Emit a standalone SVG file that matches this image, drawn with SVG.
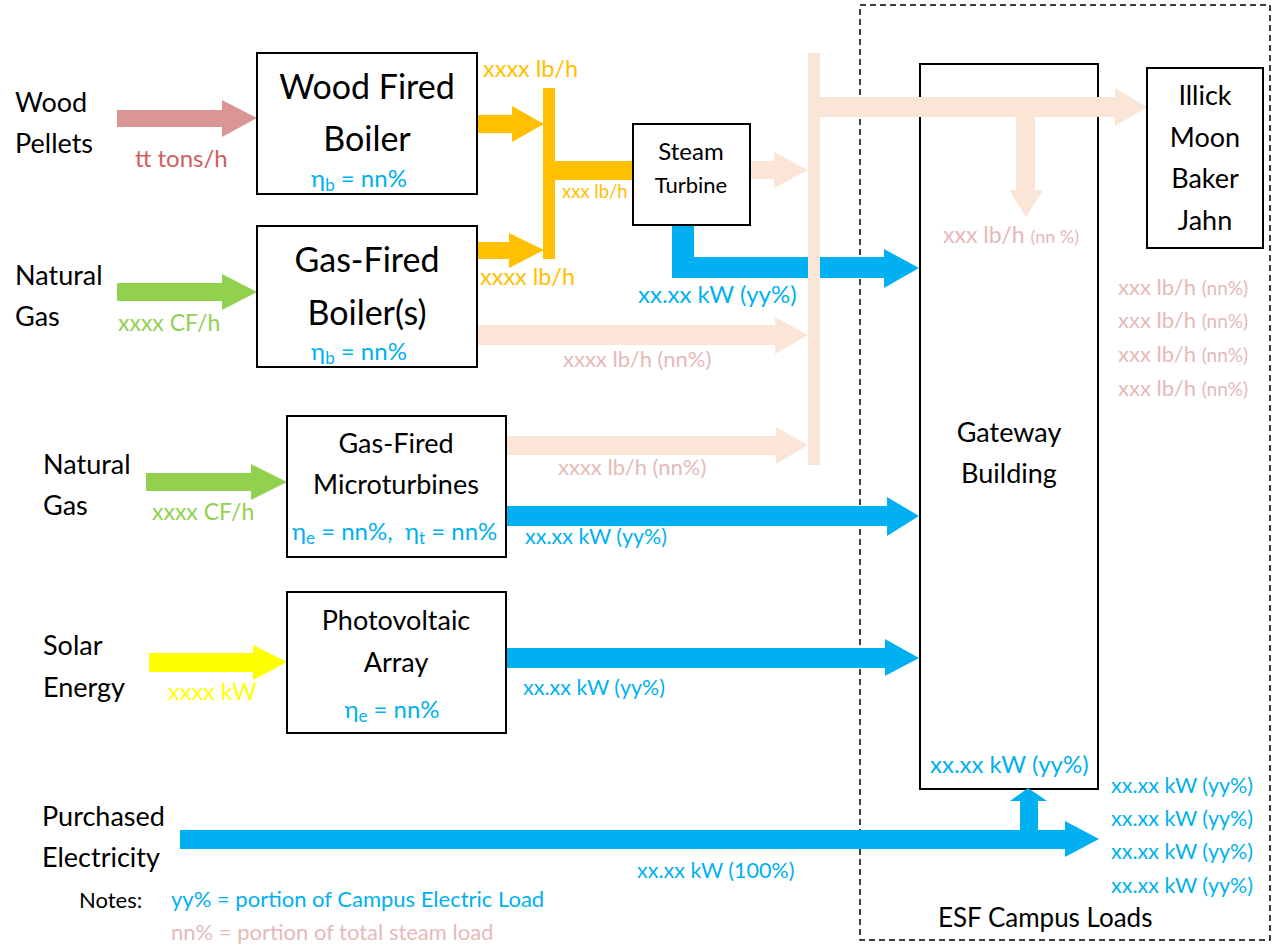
<svg xmlns="http://www.w3.org/2000/svg" width="1272" height="945" viewBox="0 0 1272 945">
<style>
text{font-family:Lato,"Carlito","Open Sans",sans-serif;}
.lbl{font-size:27px;fill:#000;}
.big{font-size:34px;fill:#000;text-anchor:middle;}
.mid{font-size:27px;fill:#000;text-anchor:middle;}
.eta{font-size:24px;fill:#00B0F0;text-anchor:middle;}
.box{fill:#fff;stroke:#000;stroke-width:2;}
.blue{fill:#00B0F0;}
.bt{font-size:21.5px;fill:#00B0F0;}
.bt2{font-size:24px;fill:#00B0F0;}
.pt{font-size:22px;fill:#E6B9B8;}
.ot{font-size:23.5px;fill:#FFC000;}
.peach{fill:#FBE5D6;}
.orange{fill:#FFC000;}
.green{fill:#92D050;}
</style>
<rect id="campus" x="860" y="5" width="410" height="935" fill="none" stroke="#000" stroke-width="1.5" stroke-dasharray="6,4"/>
<g id="gateway">
<rect class="box" x="920" y="64" width="178" height="725"/>
<text class="mid" x="1009" y="442">Gateway</text>
<text class="mid" x="1009" y="483">Building</text>
<text x="943" y="243" font-size="23" fill="#E6B9B8">xxx lb/h <tspan font-size="18">(nn %)</tspan></text>
<text class="bt2" x="930" y="773">xx.xx kW (yy%)</text>
</g>
<g id="connectors">
<polygon fill="#D99694" points="117,110 222,110 222,100 257,118 222,137 222,127 117,127"/>
<polygon class="green" points="117,283 222,283 222,274 257,292 222,310 222,301 117,301"/>
<polygon class="orange" points="477,115 512,115 512,106 544,124 512,142 512,133 477,133"/>
<rect class="orange" x="543" y="88" width="12" height="171"/>
<rect class="orange" x="555" y="161" width="78" height="19"/>
<polygon class="orange" points="477,242 509,242 509,233 544,250 509,268 509,259 477,259"/>
<polygon class="peach" points="750,161 774,161 774,152 808,170 774,188 774,179 750,179"/>
<polygon class="blue" points="672,225 694,225 694,257 884,257 884,249 919,268 884,288 884,278 672,278"/>
<polygon class="peach" points="477,325 775,325 775,317 808,335 775,354 775,345 477,345"/>
<rect class="peach" x="808" y="53" width="12" height="412"/>
<polygon class="peach" points="820,97 1115,97 1115,88 1147,107 1115,126 1115,117 820,117"/>
<polygon class="peach" points="1016,117 1035,117 1035,190 1043,190 1026,217 1009,190 1016,190"/>
<polygon class="peach" points="506,436 776,436 776,427 808,445 776,464 776,455 506,455"/>
<polygon class="blue" points="506,506 887,506 887,497 919,516 887,536 887,526 506,526"/>
<polygon class="green" points="146,473 251,473 251,464 287,482 251,500 251,491 146,491"/>
<polygon fill="#FFFF00" points="149,653 253,653 253,645 287,662 253,680 253,672 149,672"/>
<polygon class="blue" points="506,648 885,648 885,639 919,658 885,676 885,668 506,668"/>
<polygon class="blue" points="180,830 1065,830 1065,821 1099,839 1065,857 1065,849 180,849"/>
<polygon class="blue" points="1020,830 1020,801 1010,801 1028,788 1047,801 1038,801 1038,830"/>
</g>
<g id="wood-pellets">
<text class="lbl" x="15" y="112">Wood</text>
<text class="lbl" x="15" y="153">Pellets</text>
<text x="135" y="167" font-size="24" fill="#D0605E">tt tons/h</text>
</g>
<g id="natural-gas-1">
<text class="lbl" x="15" y="285">Natural</text>
<text class="lbl" x="15" y="326">Gas</text>
<text x="118" y="331" font-size="23" fill="#92D050">xxxx CF/h</text>
</g>
<g id="wood-boiler">
<rect class="box" x="257" y="53" width="220" height="141"/>
<text class="big" x="367" y="99">Wood Fired</text>
<text class="big" x="367" y="151">Boiler</text>
<text class="eta" x="359" y="187">η<tspan font-size="17" dy="4">b</tspan><tspan dy="-4"> = nn%</tspan></text>
</g>
<g id="gas-boiler">
<rect class="box" x="257" y="226" width="220" height="141"/>
<text class="big" x="367" y="272">Gas-Fired</text>
<text class="big" x="367" y="325">Boiler(s)</text>
<text class="eta" x="359" y="360">η<tspan font-size="17" dy="4">b</tspan><tspan dy="-4"> = nn%</tspan></text>
</g>
<g id="steam-labels">
<text class="ot" x="483" y="77">xxxx lb/h</text>
<text x="562" y="198" font-size="18.5" fill="#FFC000">xxx lb/h</text>
<text class="ot" x="480" y="285">xxxx lb/h</text>
</g>
<g id="steam-turbine">
<rect class="box" x="633" y="124" width="117" height="101"/>
<text x="691" y="160" font-size="24" text-anchor="middle">Steam</text>
<text x="691" y="193" font-size="22" text-anchor="middle">Turbine</text>
<text class="bt2" x="638" y="303">xx.xx kW (yy%)</text>
</g>
<text class="pt" x="563" y="367">xxxx lb/h (nn%)</text>
<g id="natural-gas-2">
<text class="lbl" x="43" y="474">Natural</text>
<text class="lbl" x="43" y="515">Gas</text>
<text x="152" y="520" font-size="23" fill="#92D050">xxxx CF/h</text>
</g>
<g id="microturbines">
<rect class="box" x="287" y="416" width="219" height="141"/>
<text class="mid" x="396" y="453">Gas-Fired</text>
<text class="mid" x="396" y="494">Microturbines</text>
<text x="292" y="540" font-size="24" fill="#00B0F0" xml:space="preserve">η<tspan font-size="17" dy="4">e</tspan><tspan dy="-4"> = nn%,  η</tspan><tspan font-size="17" dy="4">t</tspan><tspan dy="-4"> = nn%</tspan></text>
</g>
<text class="pt" x="558" y="475">xxxx lb/h (nn%)</text>
<text class="bt" x="525" y="544">xx.xx kW (yy%)</text>
<g id="solar">
<text class="lbl" x="43" y="655">Solar</text>
<text class="lbl" x="43" y="697">Energy</text>
<text x="168" y="700" font-size="23.5" fill="#FFFF00">xxxx kW</text>
</g>
<g id="pv-array">
<rect class="box" x="287" y="592" width="219" height="141"/>
<text class="mid" x="396" y="630">Photovoltaic</text>
<text class="mid" x="396" y="672">Array</text>
<text class="eta" x="392" y="718">η<tspan font-size="17" dy="4">e</tspan><tspan dy="-4"> = nn%</tspan></text>
</g>
<text class="bt" x="523" y="695">xx.xx kW (yy%)</text>
<g id="purchased">
<text class="lbl" x="42" y="826">Purchased</text>
<text class="lbl" x="42" y="867">Electricity</text>
<text class="bt" x="637" y="878">xx.xx kW (100%)</text>
</g>
<g id="other-buildings">
<rect class="box" x="1147" y="68" width="116" height="180"/>
<text class="mid" x="1205" y="105">Illick</text>
<text class="mid" x="1205" y="147">Moon</text>
<text class="mid" x="1205" y="188">Baker</text>
<text class="mid" x="1205" y="230">Jahn</text>
</g>
<g id="steam-loads">
<text class="pt" x="1118" y="295">xxx lb/h <tspan font-size="19">(nn%)</tspan></text>
<text class="pt" x="1118" y="328">xxx lb/h <tspan font-size="19">(nn%)</tspan></text>
<text class="pt" x="1118" y="362">xxx lb/h <tspan font-size="19">(nn%)</tspan></text>
<text class="pt" x="1118" y="396">xxx lb/h <tspan font-size="19">(nn%)</tspan></text>
</g>
<g id="electric-loads">
<text class="bt" x="1111" y="793">xx.xx kW (yy%)</text>
<text class="bt" x="1111" y="826">xx.xx kW (yy%)</text>
<text class="bt" x="1111" y="859">xx.xx kW (yy%)</text>
<text class="bt" x="1111" y="893">xx.xx kW (yy%)</text>
</g>
<text x="938" y="927" font-size="26">ESF Campus Loads</text>
<g id="notes">
<text x="79" y="908" font-size="22">Notes:</text>
<text x="171" y="907" font-size="22" fill="#00B0F0">yy% = portion of Campus Electric Load</text>
<text x="171" y="940" font-size="22" fill="#E6B9B8">nn% = portion of total steam load</text>
</g>
</svg>
